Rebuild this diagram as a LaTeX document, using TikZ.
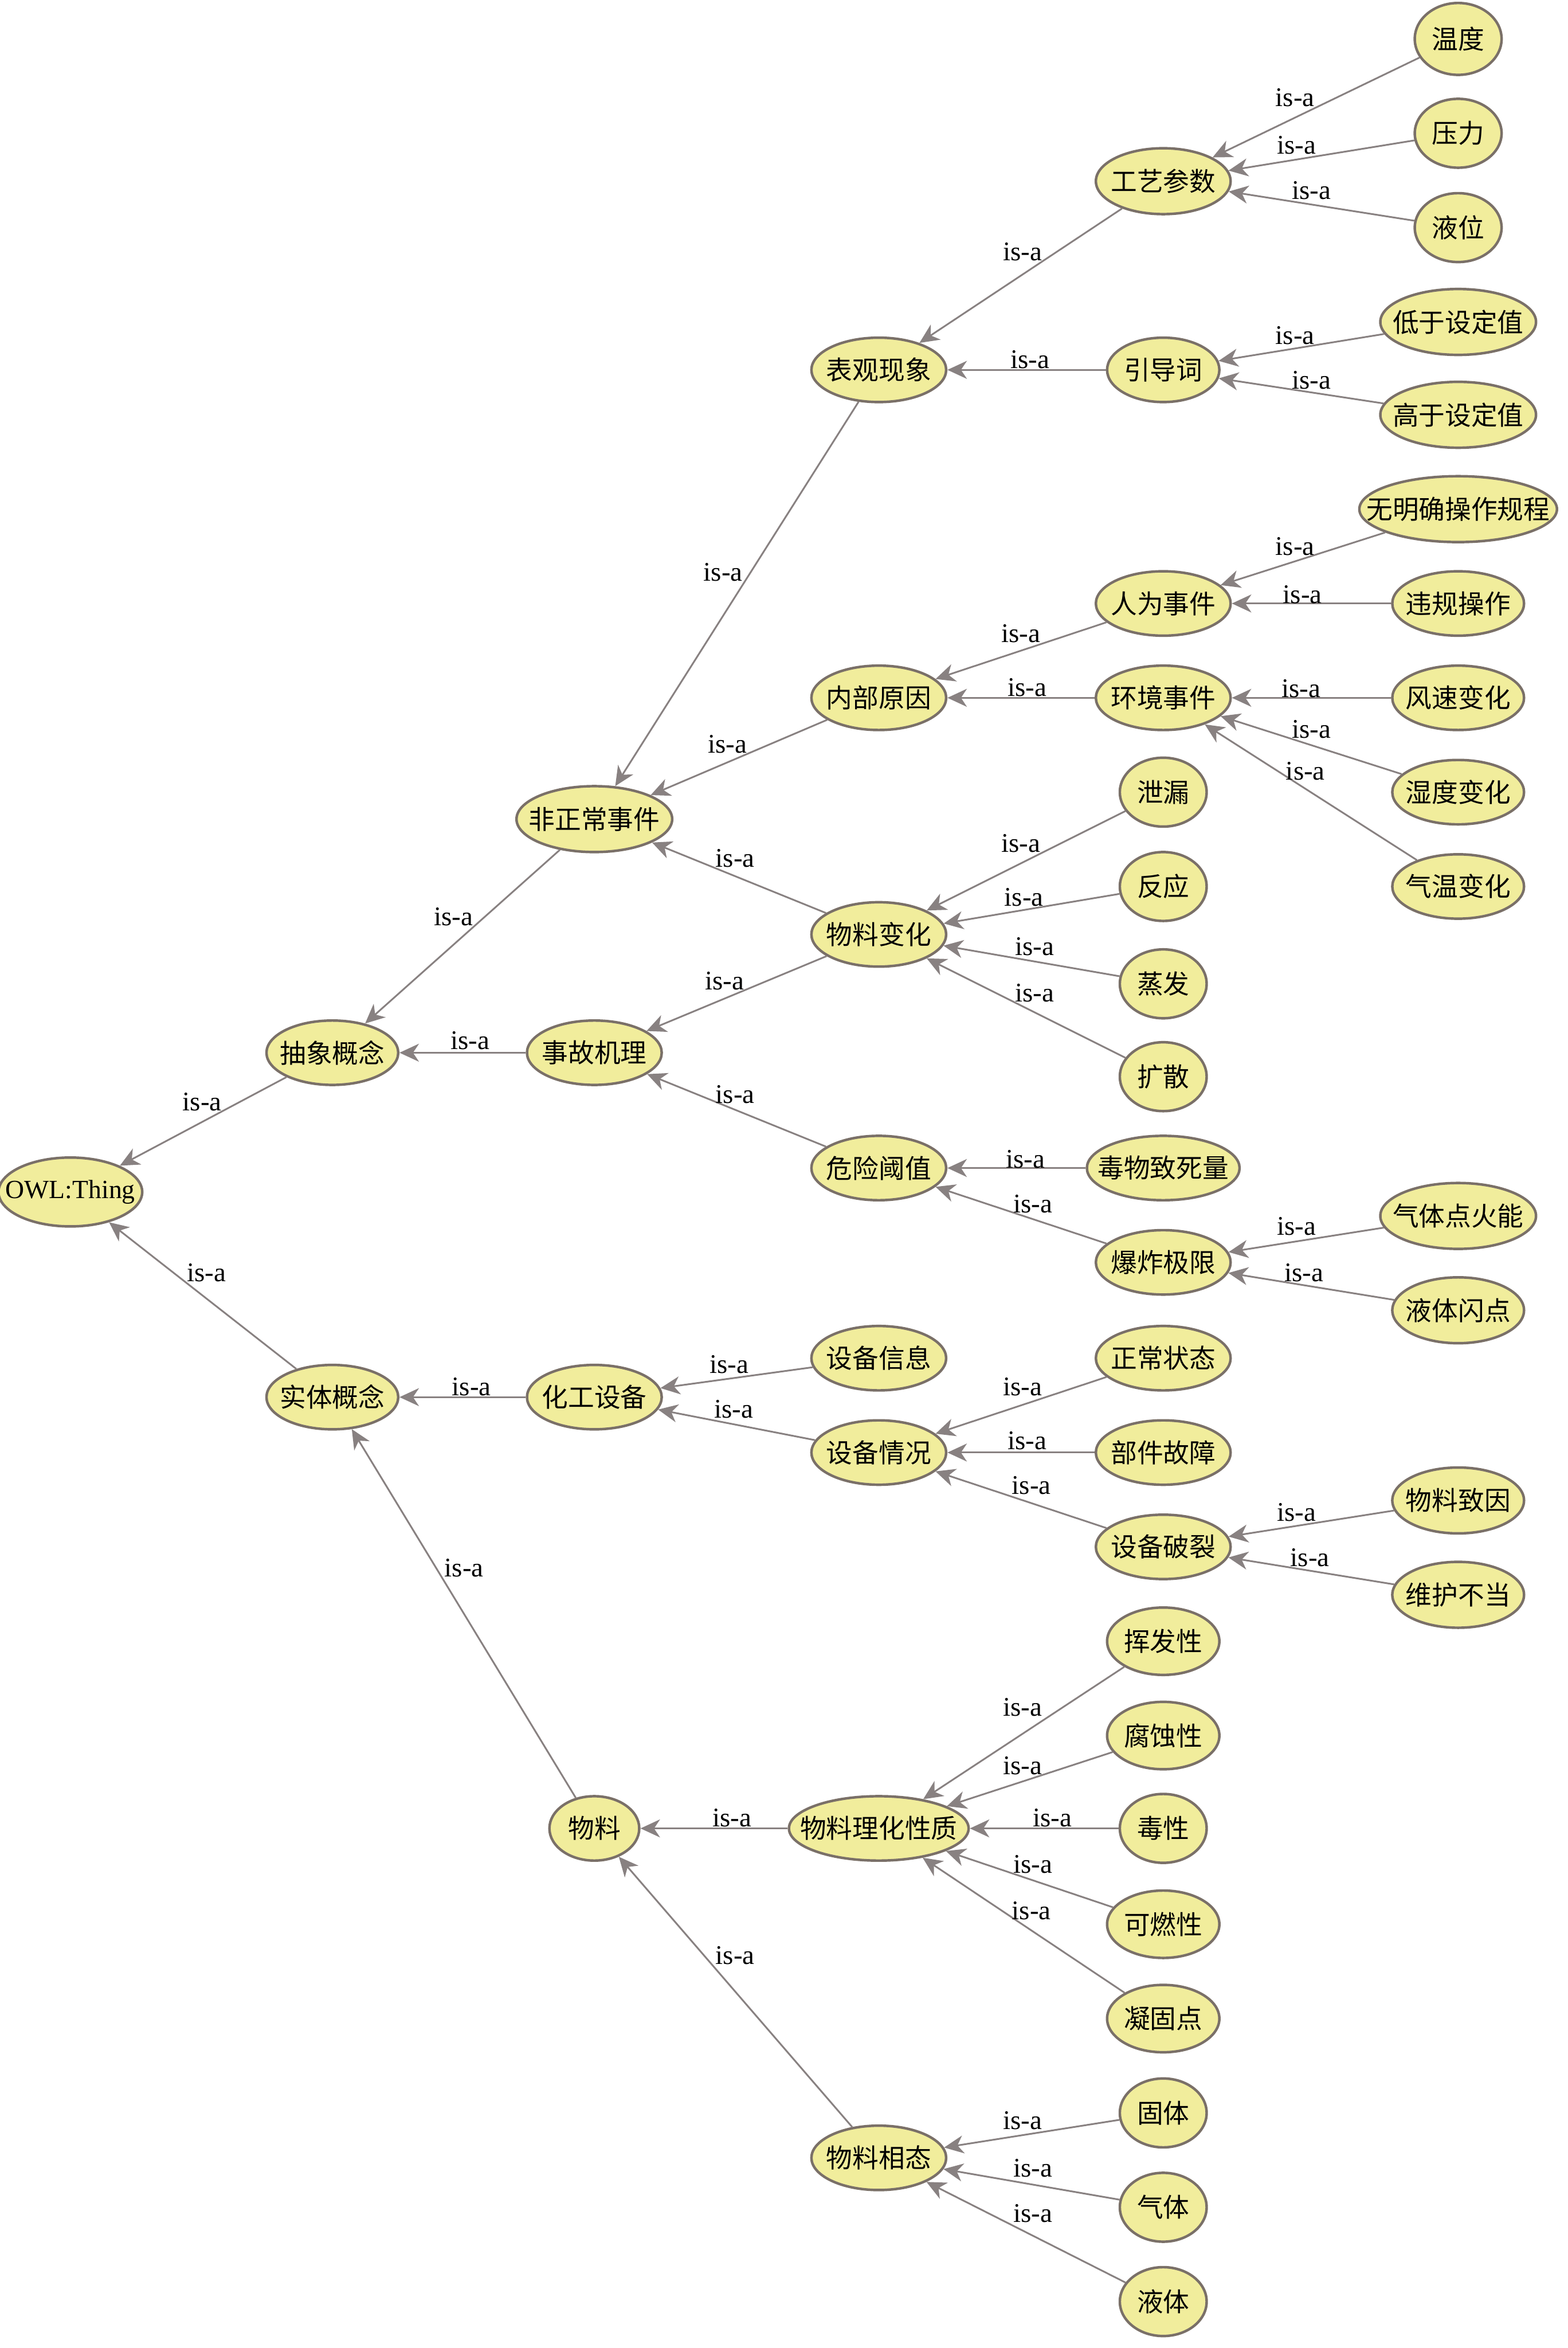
\documentclass[tikz,border=0pt]{standalone}
\usepackage{fontspec}
\setmainfont{Liberation Serif}
\newfontfamily\cjk{Noto Sans CJK SC}
\usetikzlibrary{shapes.geometric,arrows.meta}
\definecolor{nodefill}{HTML}{F1ED9C}
\definecolor{nodeline}{HTML}{7A7068}
\definecolor{edgecol}{HTML}{888181}
\tikzset{
 ent/.style={ellipse, draw=nodeline, line width=1.7pt, fill=nodefill, inner sep=0pt,
   font=\fontsize{17.5}{20}\selectfont\cjk},
 isa/.style={draw=edgecol, line width=1.15pt, -{Stealth[length=13pt,width=12pt,inset=4pt]}},
 lbl/.style={font=\fontsize{18}{20}\selectfont, inner sep=0pt}
}
\newcommand\ent[6]{\node[ent, minimum width=#4pt, minimum height=#5pt] (#1) at (#2,#3) {\makebox[0pt]{#6}};}
\newcommand\isa[4]{\draw[isa] (#1) -- (#2); \node[lbl] (l#1) at (#3,#4) {is-a};}
\begin{document}
\begin{tikzpicture}[x=1pt,y=-1pt]
\useasboundingbox (0,0) rectangle (1047,1568);
\node[ent, minimum width=96pt, minimum height=46pt, font=\fontsize{17.5}{20}\selectfont\rmfamily] (owl) at (47,796) {\makebox[0pt]{OWL:Thing}};
\ent{ab}{222}{703}{88}{43}{抽象概念}
\ent{st}{222}{933}{88}{43}{实体概念}
\ent{fz}{397}{547}{104}{44}{非正常事件}
\ent{sg}{397}{703}{90}{43}{事故机理}
\ent{hg}{397}{933}{90}{43}{化工设备}
\ent{wl}{397}{1221}{60}{43}{物料}
\ent{bg}{587}{247}{90}{43}{表观现象}
\ent{nb}{587}{466}{90}{43}{内部原因}
\ent{wb}{587}{624}{90}{43}{物料变化}
\ent{wx}{587}{780}{90}{43}{危险阈值}
\ent{sx}{587}{907}{90}{43}{设备信息}
\ent{sq}{587}{970}{90}{43}{设备情况}
\ent{lh}{587}{1221}{120}{43}{物料理化性质}
\ent{xt}{587}{1441}{90}{43}{物料相态}
\ent{gy}{777}{121}{90}{44}{工艺参数}
\ent{yd}{777}{247}{75}{43}{引导词}
\ent{rw}{777}{403}{90}{43}{人为事件}
\ent{hj}{777}{466}{90}{43}{环境事件}
\ent{xl}{777}{529}{58}{46}{泄漏}
\ent{fy}{777}{592}{58}{46}{反应}
\ent{zf}{777}{657}{58}{46}{蒸发}
\ent{ks}{777}{719}{58}{46}{扩散}
\ent{dw}{777}{780}{102}{43}{毒物致死量}
\ent{bz}{777}{843}{90}{43}{爆炸极限}
\ent{zc}{777}{907}{90}{43}{正常状态}
\ent{bj}{777}{970}{90}{43}{部件故障}
\ent{sp}{777}{1033}{90}{43}{设备破裂}
\ent{hf}{777}{1096}{75}{45}{挥发性}
\ent{fs}{777}{1159}{75}{45}{腐蚀性}
\ent{dx}{777}{1221}{58}{46}{毒性}
\ent{kr}{777}{1285}{75}{45}{可燃性}
\ent{ng}{777}{1348}{75}{45}{凝固点}
\ent{gt}{777}{1411}{58}{46}{固体}
\ent{qt}{777}{1474}{58}{46}{气体}
\ent{yt}{777}{1537}{58}{46}{液体}
\ent{wd}{974}{26}{58}{48}{温度}
\ent{yl}{974}{89}{58}{46}{压力}
\ent{yw}{974}{152}{58}{46}{液位}
\ent{dy}{974}{215}{104}{44}{低于设定值}
\ent{gs}{974}{277}{104}{44}{高于设定值}
\ent{wm}{974}{340}{132}{44}{无明确操作规程}
\ent{wg}{974}{403}{88}{43}{违规操作}
\ent{fsb}{974}{466}{88}{43}{风速变化}
\ent{sd}{974}{529}{88}{43}{湿度变化}
\ent{qw}{974}{592}{88}{43}{气温变化}
\ent{qd}{974}{812}{104}{44}{气体点火能}
\ent{yts}{974}{875}{88}{44}{液体闪点}
\ent{wy}{974}{1002}{88}{44}{物料致因}
\ent{wh}{974}{1065}{88}{44}{维护不当}
% edges
\isa{ab}{owl}{135}{736}
\isa{st}{owl}{138}{850}
\isa{fz}{ab}{303}{612}
\isa{sg}{ab}{314}{695}
\isa{hg}{st}{315}{926}
\isa{wl}{st}{310}{1047}
\isa{bg}{fz}{483}{382}
\isa{nb}{fz}{486}{497}
\isa{wb}{fz}{491}{573}
\draw[isa] (wb) -- (sg); \node[lbl] (lwb2) at (484,655) {is-a};
\isa{wx}{sg}{491}{731}
\isa{sx}{hg}{487}{911}
\isa{sq}{hg}{490}{941}
\isa{lh}{wl}{489}{1214}
\isa{xt}{wl}{491}{1306}
\isa{gy}{bg}{683}{168}
\isa{yd}{bg}{688}{240}
\isa{rw}{nb}{682}{423}
\isa{hj}{nb}{686}{459}
\isa{xl}{wb}{682}{563}
\isa{fy}{wb}{684}{599}
\isa{zf}{wb}{691}{632}
\isa{ks}{wb}{691}{663}
\isa{dw}{wx}{685}{774}
\isa{bz}{wx}{690}{804}
\isa{zc}{sq}{683}{926}
\isa{bj}{sq}{686}{962}
\isa{sp}{sq}{689}{992}
\isa{hf}{lh}{683}{1140}
\isa{fs}{lh}{683}{1179}
\isa{dx}{lh}{703}{1214}
\isa{kr}{lh}{690}{1245}
\isa{ng}{lh}{689}{1276}
\isa{gt}{xt}{683}{1416}
\isa{qt}{xt}{690}{1448}
\isa{yt}{xt}{690}{1478}
\isa{wd}{gy}{865}{65}
\isa{yl}{gy}{866}{97}
\isa{yw}{gy}{876}{127}
\isa{dy}{yd}{865}{224}
\isa{gs}{yd}{876}{254}
\isa{wm}{rw}{865}{365}
\isa{wg}{rw}{870}{397}
\isa{fsb}{hj}{869}{460}
\isa{sd}{hj}{876}{487}
\isa{qw}{hj}{872}{515}
\isa{qd}{bz}{866}{819}
\isa{yts}{bz}{871}{850}
\isa{wy}{sp}{866}{1010}
\isa{wh}{sp}{875}{1040}
\end{tikzpicture}
\end{document}
